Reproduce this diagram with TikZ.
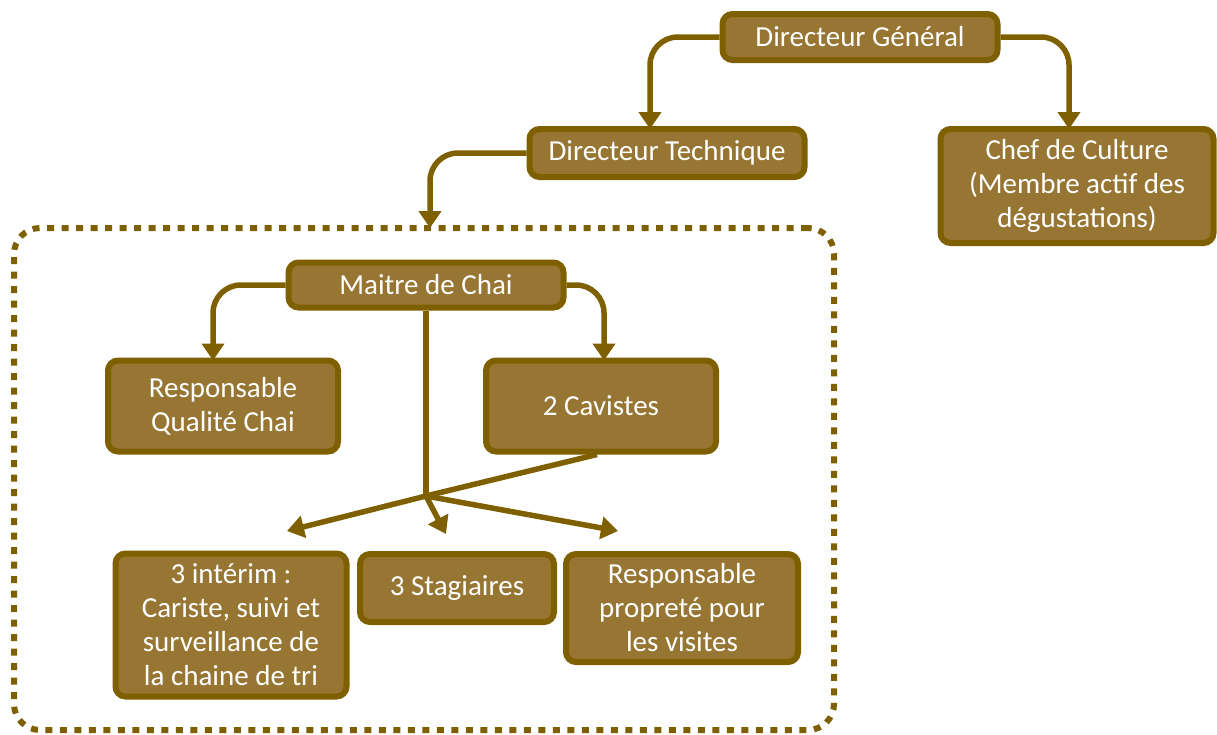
\documentclass[tikz,border=0pt]{standalone}
\usepackage{fontspec}
\setmainfont{Carlito}
\usetikzlibrary{positioning}
\usetikzlibrary{arrows.meta,calc}

\definecolor{chaifill}{RGB}{151,118,51}
\definecolor{chaiedge}{RGB}{127,96,0}

\begin{document}
\begin{tikzpicture}[x=1pt,y=-1pt,
    box/.style={draw=chaiedge,fill=chaifill,line width=6pt,rounded corners=10pt,
        text=white,align=center,inner sep=0pt,font=\fontsize{29}{34}\selectfont},
    link/.style={draw=chaiedge,line width=5.5pt,rounded corners=28pt},
    frame/.style={draw=chaiedge,line width=6pt,dash pattern=on 7pt off 7.5pt,rounded corners=26pt},
    >={Triangle[length=17pt,width=22pt]},
]
\useasboundingbox (0,0) rectangle (1217,734);
        % direction
        \node[box,minimum width=275pt,minimum height=46pt] (dg) at (860,37) {Directeur Général};
        \node[box,minimum width=275pt,minimum height=48pt] (dt) at (667,153) {Directeur Technique};
        \node[box,minimum width=273pt,minimum height=114pt] (chef) at (1077,186) {Chef de Culture\\(Membre actif des\\dégustations)};
            \path[link,->] (dg.west) -| ([xshift=-17pt,yshift=-3pt]dt.north);
            \path[link,->] (dg.east) -| ([xshift=-8pt,yshift=-3pt]chef.north);
        % equipe du chai
        \node[frame,minimum width=820pt,minimum height=502pt] (team) at (424,479) {};
            \path[link,->] (dt.west) -| ([xshift=6pt,yshift=-3pt]team.north);
        \node[box,minimum width=275pt,minimum height=45pt] (mc) at (426,285) {Maitre de Chai};
        \node[box,minimum width=230pt,minimum height=91pt] (rq) at (223,406) {Responsable\\Qualité Chai};
        \node[box,minimum width=230pt,minimum height=91pt] (cav) at (601,406) {2 Cavistes};
            \path[link,->] (mc.west) -| ([xshift=-10pt,yshift=-3pt]rq.north);
            \path[link,->] (mc.east) -| ([xshift=3pt,yshift=-3pt]cav.north);
        \node[box,minimum width=231pt,minimum height=143pt] (interim) at (231,625) {3 intérim :\\Cariste, suivi et\\surveillance de\\la chaine de tri};
        \node[box,minimum width=194pt,minimum height=68pt] (stag) at (457,588) {3 Stagiaires};
        \node[box,minimum width=232pt,minimum height=108pt] (prop) at (682,608) {Responsable\\propreté pour\\les visites};
        \coordinate (hub) at (426,496);
        \coordinate (tipl) at (287,531);
        \coordinate (tipm) at (446,534);
        \coordinate (tipr) at (618,531);
            \path[link,rounded corners=0pt] (mc.south) -- (hub);
            \path[link,rounded corners=0pt,->] ([xshift=-4pt]cav.south) -- (hub) -- (tipl);
            \path[link,rounded corners=0pt,->] (hub) -- (tipm);
            \path[link,rounded corners=0pt,->] (hub) -- (tipr);
\end{tikzpicture}
\end{document}
